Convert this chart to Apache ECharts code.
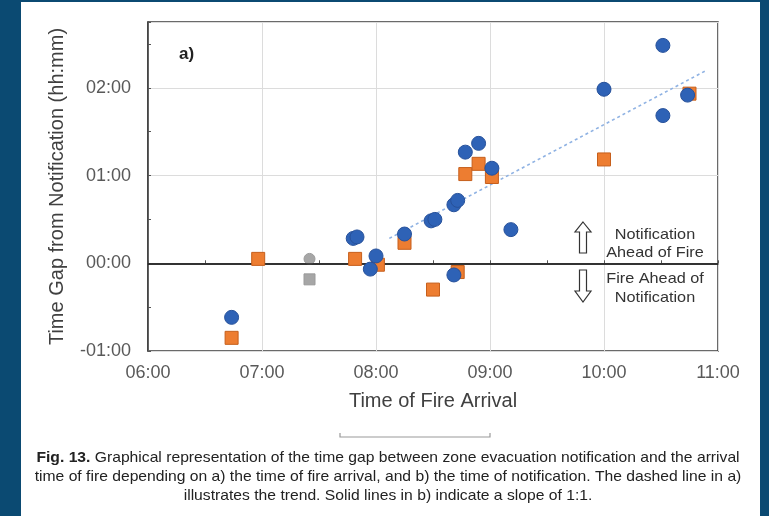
<!DOCTYPE html>
<html>
<head>
<meta charset="utf-8">
<script src="https://cdn.jsdelivr.net/npm/echarts@6/dist/echarts.min.js"></script>
<style>
  html, body { margin: 0; padding: 0; width: 769px; height: 516px; overflow: hidden; background: #0b4a72; }
  #panel { position: absolute; left: 21px; top: 2px; width: 739px; height: 514px; background: #ffffff; }
  #chart { position: absolute; left: 0; top: 0; width: 769px; height: 516px; }
</style>
</head>
<body>
<div id="panel"></div>
<div id="chart"></div>
<script>
// ---- data (arrival time "hh:mm", gap in minutes: notification ahead of fire > 0) ----
const blueArrival = ['06:44','07:48','07:50','07:57','08:00','08:15','08:29','08:31','08:41','08:43','08:41','08:47','08:54','09:01','09:11','10:00','10:31','10:31','10:44'];
const blueGapMin  = [-37, 17, 18, -4, 5, 20, 29, 30, 40, 43, -8, 76, 82, 65, 23, 119, 149, 101, 115];

const orangeArrival = ['06:44','06:58','07:49','08:01','08:15','08:30','08:43','08:47','08:54','09:01','10:00','10:45'];
const orangeGapMin  = [-51, 3, 3, -1, 14, -18, -6, 61, 68, 59, 71, 116];

const grayCircleArrival = ['07:25'];
const grayCircleGapMin  = [3];
const graySquareArrival = ['07:25'];
const graySquareGapMin  = [-11];

const trendArrival = ['08:07', '10:54'];
const trendGapMin  = [17, 132];

const xTickValues = [6, 7, 8, 9, 10, 11];
const xTickLabels = ['06:00', '07:00', '08:00', '09:00', '10:00', '11:00'];
const yTickValues = [-1, 0, 1, 2];
const yTickLabels = ['-01:00', '00:00', '01:00', '02:00'];

// ---- helpers ----
const toHours = s => { const p = s.split(':'); return +p[0] + (+p[1]) / 60; };
const pairs = (arr, gaps) => arr.map((t, i) => [toHours(t), gaps[i] / 60]);
const lookup = (vals, labels) => v => {
  const i = vals.findIndex(x => Math.abs(x - v) < 1e-6);
  return i >= 0 ? labels[i] : '';
};

const FONT = "'Liberation Sans', Arial, sans-serif";
const chart = echarts.init(document.getElementById('chart'), null, { renderer: 'canvas' });

const option = {
  animation: false,
  backgroundColor: 'transparent',
  textStyle: { fontFamily: FONT },
  grid: {
    left: 148, right: 51, top: 22, bottom: 165,
    show: true, borderColor: '#3a3a3a', borderWidth: 1.5, backgroundColor: 'transparent'
  },
  xAxis: {
    type: 'value', min: 6, max: 11, interval: 1,
    name: 'Time of Fire Arrival', nameLocation: 'middle', nameGap: 40,
    nameTextStyle: { fontSize: 20, color: '#404040', fontFamily: FONT },
    axisLine: { show: true, lineStyle: { color: '#3a3a3a', width: 1.5 } },
    axisTick: { show: true, inside: true, length: 3, lineStyle: { color: '#555' } },
    minorTick: { show: true, splitNumber: 2, length: 3, lineStyle: { color: '#555' } },
    axisLabel: { fontSize: 18, color: '#595959', margin: 13, formatter: lookup(xTickValues, xTickLabels), fontFamily: FONT },
    splitLine: { show: true, lineStyle: { color: '#dcdcdc', width: 1 } }
  },
  yAxis: {
    type: 'value', min: -1, max: 2.75, interval: 1,
    name: 'Time Gap from Notification (hh:mm)', nameLocation: 'middle', nameGap: 81,
    nameTextStyle: { fontSize: 20, color: '#404040', fontFamily: FONT },
    axisLine: { show: true, lineStyle: { color: '#3a3a3a', width: 1.5 } },
    axisTick: { show: true, inside: true, length: 3, lineStyle: { color: '#555' } },
    minorTick: { show: true, splitNumber: 2, length: 3, lineStyle: { color: '#555' } },
    axisLabel: { fontSize: 18, color: '#595959', margin: 17, formatter: lookup(yTickValues, yTickLabels), fontFamily: FONT, showMaxLabel: false },
    splitLine: { show: true, lineStyle: { color: '#dcdcdc', width: 1 } }
  },
  series: [
    {
      name: 'trend', type: 'line', data: pairs(trendArrival, trendGapMin),
      symbol: 'none', z: 3,
      lineStyle: { color: '#8fb2e3', width: 1.6, type: [3, 3] },
      markLine: {
        silent: true, symbol: 'none', label: { show: false },
        lineStyle: { color: '#222', width: 1.5, type: 'solid' },
        data: [{ yAxis: 0 }]
      }
    },
    {
      name: 'gray square', type: 'scatter', data: pairs(graySquareArrival, graySquareGapMin),
      symbol: 'rect', symbolSize: 11, z: 4,
      itemStyle: { color: '#a6a6a6', borderColor: '#9a9a9a', borderWidth: 1, opacity: 1 }
    },
    {
      name: 'gray circle', type: 'scatter', data: pairs(grayCircleArrival, grayCircleGapMin),
      symbol: 'circle', symbolSize: 11, z: 4,
      itemStyle: { color: '#a6a6a6', borderColor: '#9a9a9a', borderWidth: 1, opacity: 1 }
    },
    {
      name: 'orange', type: 'scatter', data: pairs(orangeArrival, orangeGapMin),
      symbol: 'rect', symbolSize: 13, z: 5,
      itemStyle: { color: '#ed7d31', borderColor: '#c65f1c', borderWidth: 1, opacity: 1 }
    },
    {
      name: 'blue', type: 'scatter', data: pairs(blueArrival, blueGapMin),
      symbol: 'circle', symbolSize: 14, z: 6,
      itemStyle: { color: '#2e62b6', borderColor: '#27519a', borderWidth: 1, opacity: 1 }
    }
  ],
  graphic: [
    { type: 'text', left: 179, top: 46, style: { text: 'a)', font: 'bold 17px ' + FONT, fill: '#222' } },
    // up arrow (hollow)
    { type: 'polygon', shape: { points: [[583,222],[591,232],[586.5,232],[586.5,253],[579.5,253],[579.5,232],[575,232]] },
      style: { fill: '#fff', stroke: '#333', lineWidth: 1.2 }, z: 10 },
    // down arrow (hollow)
    { type: 'polygon', shape: { points: [[579.5,270],[586.5,270],[586.5,291],[591,291],[583,302],[575,291],[579.5,291]] },
      style: { fill: '#fff', stroke: '#333', lineWidth: 1.2 }, z: 10 },
    { type: 'text', x: 655, y: 244, scaleX: 1.12, z: 10, style: { text: 'Notification\nAhead of Fire', font: '14.5px ' + FONT, fill: '#333', align: 'center', verticalAlign: 'middle', lineHeight: 18.5 } },
    { type: 'text', x: 655, y: 288.5, scaleX: 1.12, z: 10, style: { text: 'Fire Ahead of\nNotification', font: '14.5px ' + FONT, fill: '#333', align: 'center', verticalAlign: 'middle', lineHeight: 18.5 } },
    // separator line
    { type: 'polyline', shape: { points: [[340,433],[340,437],[490,437],[490,433]] }, style: { stroke: '#9a9a9a', lineWidth: 1.2, fill: null } },
    // caption
    { type: 'text', x: 388, y: 458, scaleX: 1.045, style: {
        text: '{b|Fig. 13.} Graphical representation of the time gap between zone evacuation notification and the arrival',
        font: '15px ' + FONT, fill: '#222', align: 'center', verticalAlign: 'middle',
        rich: { b: { fontWeight: 'bold', fontSize: 15, fontFamily: FONT, fill: '#222' } } } },
    { type: 'text', x: 388, y: 477, scaleX: 1.045, style: {
        text: 'time of fire depending on a) the time of fire arrival, and b) the time of notification. The dashed line in a)',
        font: '15px ' + FONT, fill: '#222', align: 'center', verticalAlign: 'middle' } },
    { type: 'text', x: 388, y: 496, scaleX: 1.045, style: {
        text: 'illustrates the trend. Solid lines in b) indicate a slope of 1:1.',
        font: '15px ' + FONT, fill: '#222', align: 'center', verticalAlign: 'middle' } }
  ]
};
chart.setOption(option);
</script>
</body>
</html>
